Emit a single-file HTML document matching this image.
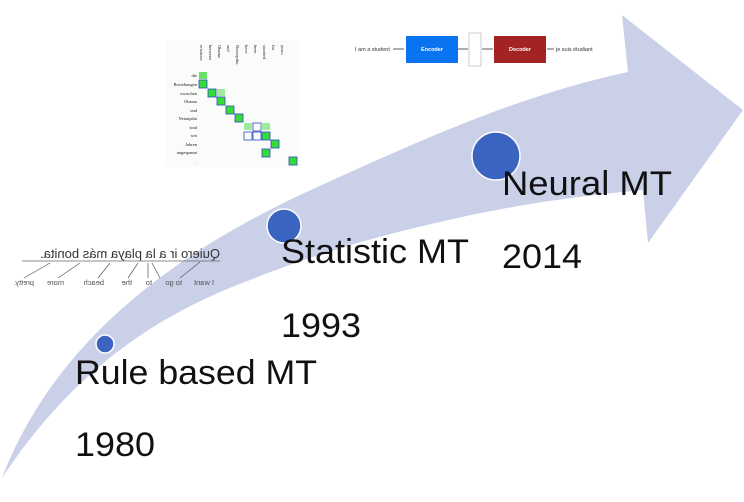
<!DOCTYPE html>
<html><head><meta charset="utf-8"><style>
html,body{margin:0;padding:0;background:#fff;}
svg{display:block;font-family:"Liberation Sans",sans-serif;}
</style></head><body>
<svg width="744" height="502" viewBox="0 0 744 502" xmlns="http://www.w3.org/2000/svg">
<path d="M2,478 C40,380 120,280 300,195 C420,140 520,95 628,72 L622,15 L743,110 L648,243 L643,190 C590,195 520,203 440,222 C360,240 300,260 250,280 C170,310 80,360 2,478 Z" fill="#c9d0e8"/>

<!-- Alignment matrix -->
<g font-family="Liberation Serif,serif" font-size="4.5" fill="#222">
<rect x="165" y="40" width="135" height="127" fill="#fafcfa"/>
<g transform="translate(200,45)">
<text transform="translate(0,0) rotate(90)">relations</text>
<text transform="translate(9,0) rotate(90)">between</text>
<text transform="translate(18,0) rotate(90)">Obama</text>
<text transform="translate(27,0) rotate(90)">and</text>
<text transform="translate(36,0) rotate(90)">Netanyahu</text>
<text transform="translate(45,0) rotate(90)">have</text>
<text transform="translate(54,0) rotate(90)">been</text>
<text transform="translate(63,0) rotate(90)">strained</text>
<text transform="translate(72,0) rotate(90)">for</text>
<text transform="translate(81,0) rotate(90)">years</text>
</g>
<g text-anchor="end">
<text x="197" y="77">die</text><text x="197" y="86">Beziehungen</text><text x="197" y="95">zwischen</text><text x="197" y="103">Obama</text><text x="197" y="112">und</text><text x="197" y="120">Netanjahu</text><text x="197" y="129">sind</text><text x="197" y="137">seit</text><text x="197" y="146">Jahren</text><text x="197" y="154">angespannt</text><text x="197" y="163">.</text>
</g>
<g fill="#33dd33" stroke="#3344cc" stroke-width="0.8">
<rect x="199" y="72" width="8" height="7" fill="#66e066" stroke="none"/>
<rect x="199" y="80" width="8" height="8"/>
<rect x="208" y="89" width="8" height="8"/>
<rect x="217" y="97" width="8" height="8"/>
<rect x="226" y="106" width="8" height="8"/>
<rect x="235" y="114" width="8" height="8"/>
<rect x="253" y="123" width="8" height="8" fill="none"/>
<rect x="244" y="132" width="8" height="8" fill="none"/>
<rect x="253" y="132" width="8" height="8" fill="none"/>
<rect x="262" y="132" width="8" height="8"/>
<rect x="271" y="140" width="8" height="8"/>
<rect x="262" y="149" width="8" height="8"/>
<rect x="289" y="157" width="8" height="8"/>
</g>
<rect x="217" y="89" width="8" height="7" fill="#9eea9e"/>
<rect x="244" y="123" width="8" height="7" fill="#9eea9e"/>
<rect x="262" y="123" width="8" height="7" fill="#9eea9e"/>
</g>

<!-- encoder-decoder -->
<g font-size="5.5" fill="#333">
<text x="355" y="51">I am a student</text>
<line x1="393" y1="49" x2="404" y2="49" stroke="#333" stroke-width="0.8"/>
<rect x="406" y="36" width="52" height="27" fill="#0a74f0"/>
<text x="432" y="51" fill="#fff" text-anchor="middle" font-weight="bold">Encoder</text>
<line x1="458" y1="49" x2="468" y2="49" stroke="#333" stroke-width="0.8"/>
<rect x="469" y="33" width="12" height="33" fill="#fff" stroke="#999" stroke-width="0.5"/>
<line x1="482" y1="49" x2="493" y2="49" stroke="#333" stroke-width="0.8"/>
<rect x="494" y="36" width="52" height="27" fill="#a32323"/>
<text x="520" y="51" fill="#fff" text-anchor="middle" font-weight="bold">Decoder</text>
<line x1="547" y1="49" x2="554" y2="49" stroke="#333" stroke-width="0.8"/>
<text x="556" y="51">je suis étudiant</text>
</g>

<!-- mirrored Spanish -->
<g transform="translate(250,0) scale(-1,1)" fill="#555">
<text x="30" y="258" font-size="13" fill="#333">Quiero ir a la playa más bonita.</text>
<line x1="30" y1="261" x2="228" y2="261" stroke="#666" stroke-width="0.7"/>
<g font-size="7.5"><text x="36" y="285">I want</text><text x="68" y="285">to go</text><text x="98" y="285">to</text><text x="118" y="285">the</text><text x="146" y="285">beach</text><text x="186" y="285">more</text><text x="216" y="285">pretty.</text></g>
<g stroke="#555" stroke-width="0.7"><line x1="50" y1="262" x2="70" y2="278"/><line x1="98" y1="263" x2="90" y2="278"/><line x1="102" y1="263" x2="102" y2="278"/><line x1="112" y1="263" x2="122" y2="278"/><line x1="140" y1="263" x2="152" y2="278"/><line x1="170" y1="263" x2="192" y2="278"/><line x1="200" y1="263" x2="226" y2="278"/></g>
</g>

<g fill="#3a64c0" stroke="#fff" stroke-width="1.5">
<circle cx="105" cy="344" r="9"/>
<circle cx="284" cy="226" r="17"/>
<circle cx="496" cy="156" r="24"/>
</g>

<g font-size="34" fill="#111">
<text x="75" y="384" textLength="242" lengthAdjust="spacingAndGlyphs">Rule based MT</text>
<text x="75" y="456" textLength="80" lengthAdjust="spacingAndGlyphs">1980</text>
<text x="281" y="263" textLength="188" lengthAdjust="spacingAndGlyphs">Statistic MT</text>
<text x="281" y="337" textLength="80" lengthAdjust="spacingAndGlyphs">1993</text>
<text x="502" y="195" textLength="170" lengthAdjust="spacingAndGlyphs">Neural MT</text>
<text x="502" y="268" textLength="80" lengthAdjust="spacingAndGlyphs">2014</text>
</g>
</svg>
</body></html>
